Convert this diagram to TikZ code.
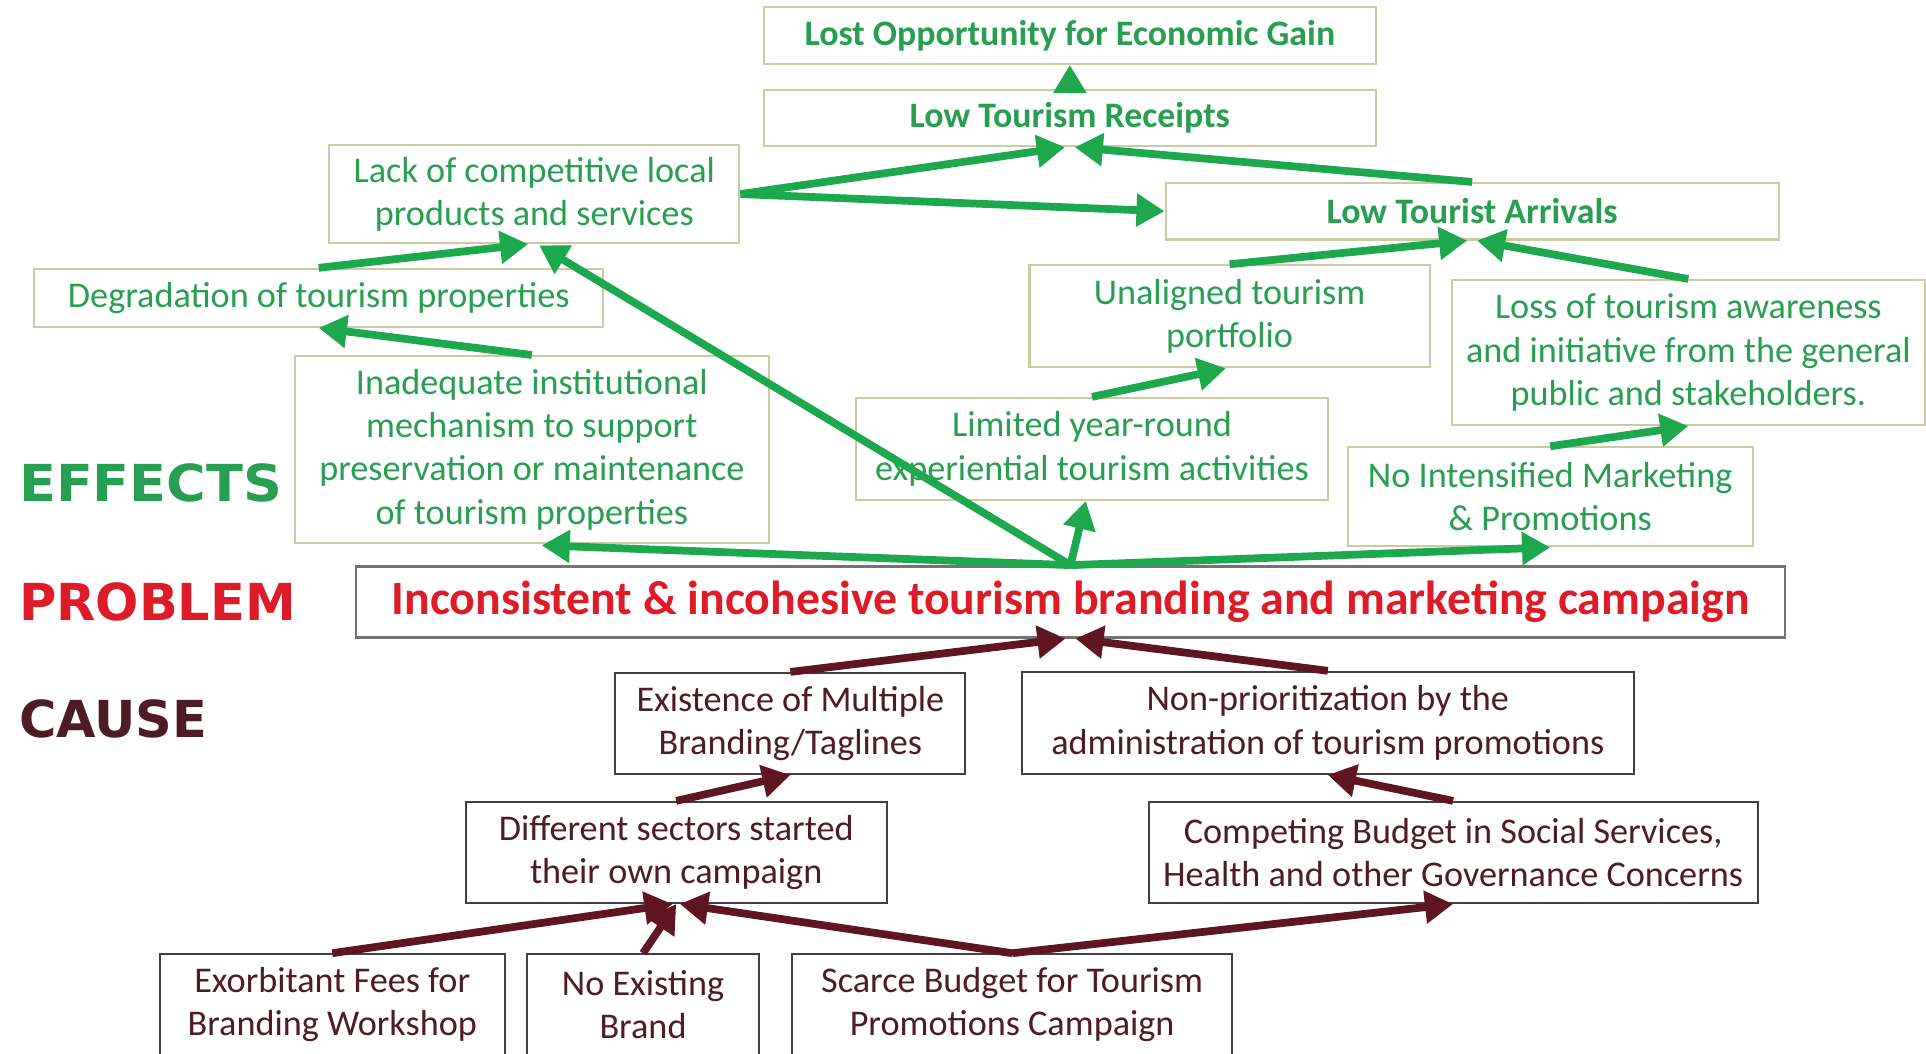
\documentclass[tikz,border=0pt]{standalone}
\usepackage{fontspec}
\setmainfont{Carlito}
\newfontfamily\labelfont{DejaVu Sans}
\usetikzlibrary{arrows.meta,calc}

\definecolor{effgreen}{RGB}{40,158,82}
\definecolor{arrgreen}{RGB}{30,168,78}
\definecolor{effline}{RGB}{200,204,160}
\definecolor{probred}{RGB}{222,28,40}
\definecolor{causetext}{RGB}{78,28,38}
\definecolor{causearr}{RGB}{96,22,34}

\begin{document}
\begin{tikzpicture}[x=0.012283cm, y=-0.012283cm,
  every node/.style={align=center, inner sep=0pt, font=\fontsize{10.3}{12.3}\selectfont},
  effect/.style={draw=effline, line width=0.6pt, text=effgreen},
  effbold/.style={effect, font=\fontsize{10.2}{12.3}\selectfont\bfseries},
  problem/.style={draw=black!55, line width=0.7pt, text=probred, font=\fontsize{13.6}{15}\selectfont\bfseries},
  cause/.style={draw=black!75, line width=0.6pt, text=causetext},
  tag/.style={anchor=west, font=\labelfont\fontsize{14.5}{16}\selectfont\bfseries},
  up/.style={-{Triangle[length=8pt,width=9pt]}, line width=2.2pt, arrgreen},
  down/.style={-{Triangle[length=8pt,width=9pt]}, line width=2.2pt, causearr}]
  \clip (0,0) rectangle (1568,858);
  \fill[white] (0,0) rectangle (1568,858);

  % side labels
  \node[tag, text=effgreen, xscale=1.06] (effects) at (15,393) {EFFECTS};
  \node[tag, text=probred] (problem) at (15,490) {PROBLEM};
  \node[tag, text=causetext] (cause) at (15,585) {CAUSE};

  % effects
  \node[effbold, minimum width=6.12cm, minimum height=0.565cm] (lost) at (871,29) {Lost Opportunity for Economic Gain};
  \node[effbold, minimum width=6.12cm, minimum height=0.565cm] (rec) at (871,96) {Low Tourism Receipts};
  \node[effect, minimum width=4.10cm, minimum height=0.98cm] (lack) at (435,158) {Lack of competitive local\\products and services};
  \node[effbold, minimum width=6.13cm, minimum height=0.565cm] (arr) at (1198.5,172) {Low Tourist Arrivals};
  \node[effect, minimum width=5.69cm, minimum height=0.58cm] (deg) at (259.5,242.5) {Degradation of tourism properties};
  \node[effect, minimum width=4.00cm, minimum height=1.02cm] (una) at (1001,257.5) {Unaligned tourism\\portfolio};
  \node[effect, minimum width=4.73cm, minimum height=1.45cm] (loss) at (1374.5,287) {Loss of tourism awareness\\and initiative from the general\\public and stakeholders.};
  \node[effect, minimum width=4.74cm, minimum height=1.87cm] (inad) at (433,366) {Inadequate institutional\\mechanism to support\\preservation or maintenance\\of tourism properties};
  \node[effect, minimum width=4.72cm, minimum height=1.02cm] (lim) at (889,365.5) {Limited year-round\\experiential tourism activities};
  \node[effect, minimum width=4.05cm, minimum height=0.99cm] (noint) at (1262,404.5) {No Intensified Marketing\\\& Promotions};

  % problem
  \node[problem, minimum width=14.29cm, minimum height=0.71cm] (prob) at (871.5,490) {Inconsistent \& incohesive tourism branding and marketing campaign};

  % causes
  \node[cause, minimum width=3.50cm, minimum height=1.01cm] (exist) at (643.5,589) {Existence of Multiple\\Branding/Taglines};
  \node[cause, minimum width=6.12cm, minimum height=1.02cm] (nonp) at (1081,588.5) {Non-prioritization by the\\administration of tourism promotions};
  \node[cause, minimum width=4.21cm, minimum height=1.01cm] (diff) at (550.5,694) {Different sectors started\\their own campaign};
  \node[cause, minimum width=6.09cm, minimum height=1.01cm] (comp) at (1183,694) {Competing Budget in Social Services,\\Health and other Governance Concerns};
  \node[cause, minimum width=3.45cm, minimum height=1.01cm] (exor) at (270.5,818) {Exorbitant Fees for\\Branding Workshop};
  \node[cause, minimum width=2.32cm, minimum height=1.01cm] (noex) at (523.5,818) {No Existing\\Brand};
  \node[cause, minimum width=4.40cm, minimum height=1.01cm] (scarce) at (824,818) {Scarce Budget for Tourism\\Promotions Campaign};

  % effect arrows
  \draw[up] (rec.north) -- (lost.south);
  \draw[up] (lack.east) -- ($(rec.south)+(-4,0)$);
  \draw[up] (lack.east) -- (arr.west);
  \draw[up] (arr.north) -- ($(rec.south)+(4,0)$);
  \draw[up] (deg.north) -- ($(lack.south)+(-5,0)$);
  \draw[up] (inad.north) -- (deg.south);
  \draw[up] (prob.north) -- ($(lack.south)+(4,1)$);
  \draw[up] (prob.north) -- ($(inad.south)+(8,1)$);
  \draw[up] (prob.north) -- ($(lim.south)+(-5,0)$);
  \draw[up] (prob.north) -- (noint.south);
  \draw[up] (lim.north) -- ($(una.south)+(-3,0)$);
  \draw[up] (una.north) -- ($(arr.south)+(-4,0)$);
  \draw[up] (loss.north) -- ($(arr.south)+(4,0)$);
  \draw[up] (noint.north) -- (loss.south);

  % cause arrows
  \draw[down] (exist.north) -- ($(prob.south)+(-4,0)$);
  \draw[down] (nonp.north) -- ($(prob.south)+(4,0)$);
  \draw[down] (diff.north) -- (exist.south);
  \draw[down] (comp.north) -- (nonp.south);
  \draw[down] (exor.north) -- ($(diff.south)+(-3,0)$);
  \draw[down] (noex.north) -- (diff.south);
  \draw[down] (scarce.north) -- ($(diff.south)+(3,0)$);
  \draw[down] (scarce.north) -- (comp.south);
\end{tikzpicture}
\end{document}
